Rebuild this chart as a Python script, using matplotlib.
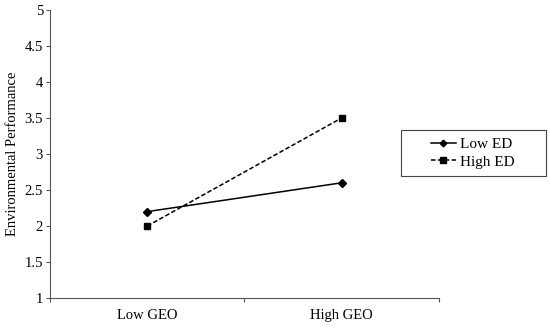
import matplotlib
matplotlib.use('Agg')
import matplotlib.pyplot as plt
from matplotlib.patches import Rectangle

plt.rcParams['font.family'] = ['Liberation Serif', 'DejaVu Serif']

categories = ['Low GEO', 'High GEO']
low_ed = [2.2, 2.6]
high_ed = [2.0, 3.5]

fig = plt.figure(figsize=(5.5, 3.29), dpi=100)
ax = fig.add_axes([0.091, 0.094, 0.707, 0.876])

x = list(range(len(categories)))
ax.plot(x, low_ed, color='black', linestyle='-', linewidth=1.1,
        marker='D', markersize=4, label='Low ED')
ax.plot(x, high_ed, color='black', linestyle=(0, (3, 1.5)), linewidth=1.1,
        marker='s', markersize=5, label='High ED')

ax.set_xlim(-0.5, len(categories) - 0.5)
ax.set_ylim(1, 5)
ax.set_yticks([1, 1.5, 2, 2.5, 3, 3.5, 4, 4.5, 5])
ax.set_yticklabels(['1', '1.5', '2', '2.5', '3', '3.5', '4', '4.5', '5'])
ax.set_xticks([-0.5, 0.5, 1.5])
ax.set_xticklabels(['', '', ''])
ax.set_xticks(x, minor=True)
ax.set_xticklabels(categories, minor=True)
ax.tick_params(axis='x', which='minor', length=0, pad=8, labelsize=10.5)
ax.tick_params(axis='x', which='major', length=3, width=0.8, color='#555555')
ax.tick_params(axis='y', length=3, width=0.8, color='#555555', labelsize=10.5, pad=2)

for s in ['top', 'right']:
    ax.spines[s].set_visible(False)
for s in ['left', 'bottom']:
    ax.spines[s].set_color('#555555')
    ax.spines[s].set_linewidth(0.8)

ax.set_ylabel('Environmental Performance', fontsize=10.5, labelpad=4)

# legend box sits partly over the plot's right end, like the original
box = Rectangle((401 / 550, 1 - 176 / 329), 145 / 550, 46 / 329,
                transform=fig.transFigure, fill=True, facecolor='white',
                edgecolor='#444444', linewidth=0.8, zorder=5)
fig.patches.append(box)
leg = fig.legend(*ax.get_legend_handles_labels(), loc='center',
                 bbox_to_anchor=(473 / 550, 1 - 153 / 329), frameon=False,
                 fontsize=11, handlelength=1.6, handletextpad=0.3,
                 labelspacing=0.25, borderpad=0, markerscale=0.85)
leg.set_zorder(6)

fig.savefig('out.png', dpi=100)
